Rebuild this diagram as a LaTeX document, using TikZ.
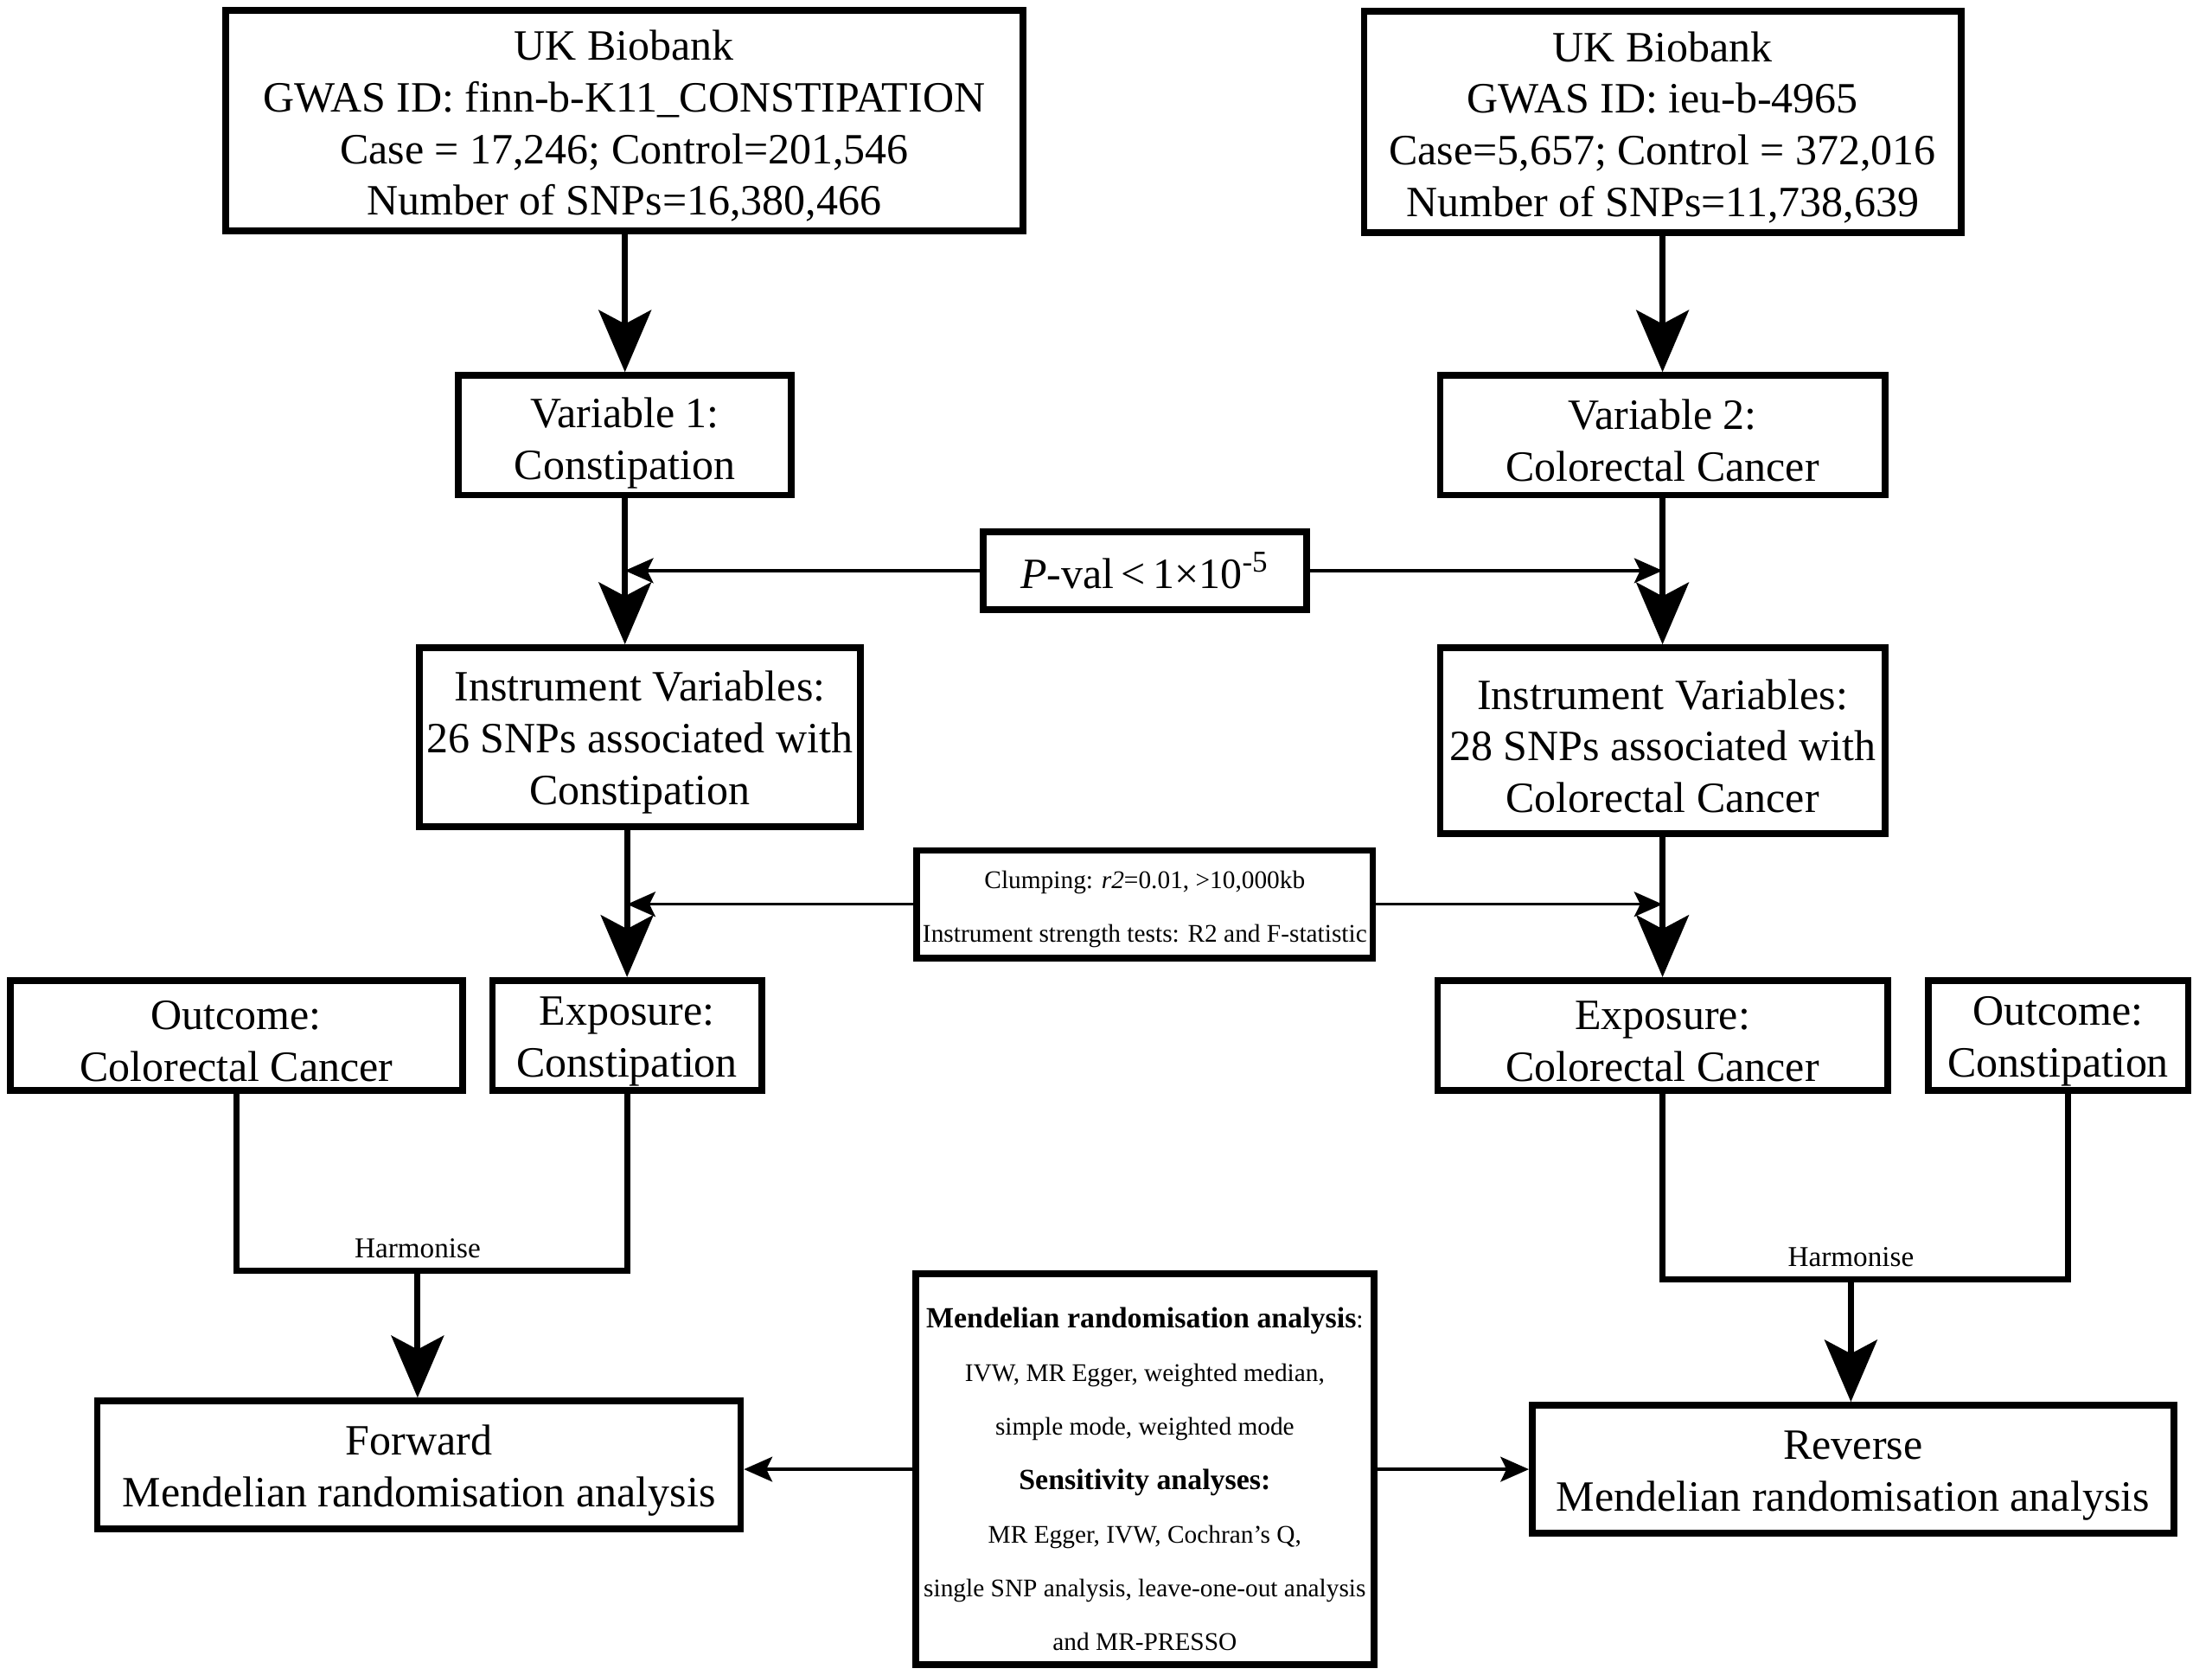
\documentclass[tikz,border=0pt]{standalone}
\usepackage{fontspec}
\setmainfont{Liberation Serif}
\usetikzlibrary{arrows.meta}

\newcommand{\flowtextfont}{\rmfamily\fontsize{14.3pt}{17.1pt}\selectfont}
\newcommand{\notetextfont}{\rmfamily\fontsize{8.4pt}{17.8pt}\selectfont}
\newcommand{\notehead}[1]{{\fontsize{9.7pt}{17.8pt}\selectfont\textbf{#1}}}
\newcommand{\harmtextfont}{\rmfamily\fontsize{9.5pt}{11pt}\selectfont}
\newcommand{\toplift}[1][13.5pt]{\rule{0pt}{#1}}

\begin{document}
\begin{tikzpicture}[x=0.0164cm, y=-0.0164cm,
  flowbox/.style = {shape=rectangle, draw, line width=2.2pt, align=center,
    inner sep=0pt, font=\flowtextfont},
  notebox/.style = {flowbox, font=\notetextfont},
  bigarrow/.style = {line width=2pt, -{Stealth[length=7.2mm, width=6.1mm, inset=1.6mm]}},
  thinarrow/.style = {line width=0.95pt, -{Stealth[length=3.3mm, width=2.9mm, inset=0.7mm]}},
  joinline/.style = {line width=2pt},
  harmlabel/.style = {font=\harmtextfont, inner sep=4pt, anchor=south}]
  \useasboundingbox (0,0) rectangle (1568,1187);

  % data sources
  \node[flowbox, minimum width=9.27cm, minimum height=2.57cm] (srcL) at (442.5,85.5)
    {\toplift UK Biobank\\GWAS ID: finn-b-K11\_CONSTIPATION\\Case = 17,246; Control=201,546\\Number of SNPs=16,380,466};
  \node[flowbox, minimum width=6.94cm, minimum height=2.57cm] (srcR) at (1178.5,86.5)
    {\toplift UK Biobank\\GWAS ID: ieu-b-4965\\Case=5,657; Control = 372,016\\Number of SNPs=11,738,639};

  % variables
  \node[flowbox, minimum width=3.87cm, minimum height=1.39cm] (var1) at (443,308.5)
    {\toplift[15pt]Variable 1:\\Constipation};
  \node[flowbox, minimum width=5.17cm, minimum height=1.39cm] (var2) at (1178.5,308.5)
    {\toplift Variable 2:\\Colorectal Cancer};
  \node[flowbox, minimum width=3.76cm, minimum height=0.9cm] (pval) at (811.5,404.5)
    {\textit{P}-val\,<\,1×10\textsuperscript{-5}};

  % instruments
  \node[flowbox, minimum width=5.13cm, minimum height=2.08cm] (ivL) at (453.5,522.5)
    {\toplift Instrument Variables:\\26 SNPs associated with\\Constipation};
  \node[flowbox, minimum width=5.17cm, minimum height=2.16cm] (ivR) at (1178.5,525)
    {\toplift Instrument Variables:\\28 SNPs associated with\\Colorectal Cancer};
  \node[notebox, minimum width=5.30cm, minimum height=1.25cm] (clump) at (811.5,641)
    {\toplift[9pt]Clumping: \textit{r2}=0.01, >10,000kb\\Instrument strength tests: R2 and F-statistic};

  % exposure / outcome
  \node[flowbox, minimum width=5.26cm, minimum height=1.28cm] (outL) at (167.5,734)
    {\toplift Outcome:\\Colorectal Cancer};
  \node[flowbox, minimum width=3.13cm, minimum height=1.28cm] (expL) at (444.5,734)
    {\toplift Exposure:\\Constipation};
  \node[flowbox, minimum width=5.23cm, minimum height=1.28cm] (expR) at (1178.5,734)
    {\toplift Exposure:\\Colorectal Cancer};
  \node[flowbox, minimum width=3.02cm, minimum height=1.28cm] (outR) at (1459,734)
    {\toplift Outcome:\\Constipation};

  % analyses
  \node[flowbox, minimum width=7.48cm, minimum height=1.49cm] (fwd) at (297,1038.5)
    {\toplift Forward\\Mendelian randomisation analysis};
  \node[flowbox, minimum width=7.46cm, minimum height=1.49cm] (rev) at (1313.5,1041.5)
    {\toplift Reverse\\Mendelian randomisation analysis};
  \node[notebox, minimum width=5.33cm, minimum height=4.54cm] (mr) at (811.5,1041.5)
    {\toplift[13.2pt]\notehead{Mendelian randomisation analysis}:\\IVW, MR Egger, weighted median,\\simple mode, weighted mode\\
     \notehead{Sensitivity analyses:}\\MR Egger, IVW, Cochran’s Q,\\single SNP analysis, leave-one-out analysis\\and MR-PRESSO};

  \coordinate (hL) at (296,901);
  \coordinate (hR) at (1312,907);

  % main flow
  \draw[bigarrow] (var1.north |- srcL.south) -- (var1.north);
  \draw[bigarrow] (srcR.south) -- (var2.north);
  \draw[bigarrow] (var1.south) -- (var1.south |- ivL.north);
  \draw[bigarrow] (var2.south) -- (ivR.north);
  \draw[bigarrow] (expL.north |- ivL.south) -- (expL.north);
  \draw[bigarrow] (ivR.south) -- (expR.north);

  % selection criteria
  \draw[thinarrow] (pval.west) -- (var1.south |- pval.west);
  \draw[thinarrow] (pval.east) -- (var2.south |- pval.east);
  \draw[thinarrow] (clump.west) -- (clump.west -| expL.north);
  \draw[thinarrow] (clump.east) -- (clump.east -| expR.north);

  % harmonise
  \draw[joinline] (outL.south) |- (hL) -| (expL.south);
  \node[harmlabel] (harmL) at (hL) {Harmonise};
  \draw[bigarrow] (hL) -- (hL |- fwd.north);
  \draw[joinline] (expR.south) |- (hR) -| ([xshift=0.11cm]outR.south);
  \node[harmlabel] (harmR) at (hR) {Harmonise};
  \draw[bigarrow] (hR) -- (hR |- rev.north);

  % methods
  \draw[thinarrow] (mr.west) -- (mr.west -| fwd.east);
  \draw[thinarrow] (mr.east) -- (mr.east -| rev.west);
\end{tikzpicture}
\end{document}
